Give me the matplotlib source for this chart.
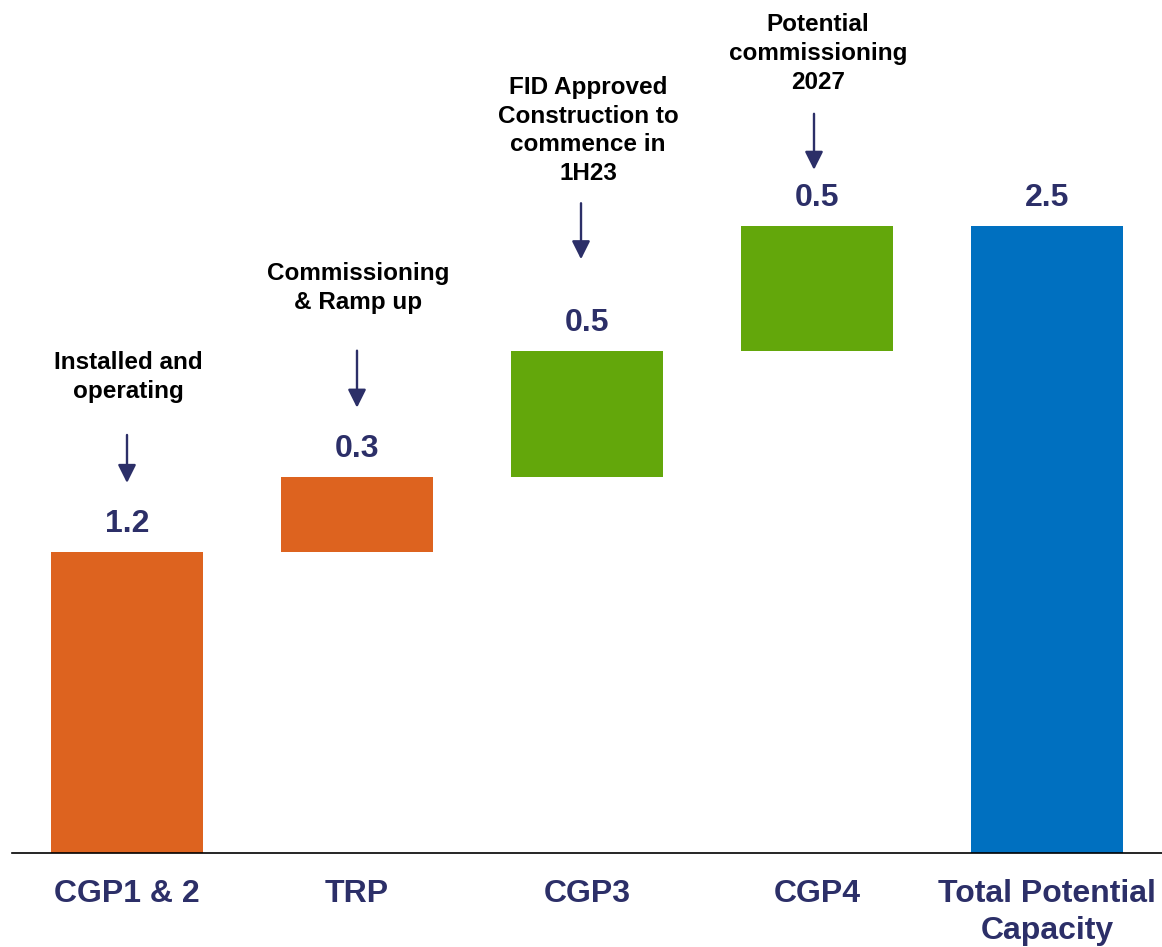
import matplotlib
matplotlib.use("Agg")
import matplotlib.pyplot as plt
from matplotlib.transforms import offset_copy
import numpy as np

# Capacity build-up (waterfall)
categories = ["CGP1 & 2", "TRP", "CGP3", "CGP4", "Total Potential\nCapacity"]
increments = [1.2, 0.3, 0.5, 0.5]
notes = [
    "Installed and\noperating",
    "Commissioning\n& Ramp up",
    "FID Approved\nConstruction to\ncommence in\n1H23",
    "Potential\ncommissioning\n2027",
]

# Colours
ORANGE = "#DD631F"
GREEN = "#63A70B"
BLUE = "#0070C0"
NAVY = "#2C2F68"
step_colors = [ORANGE, ORANGE, GREEN, GREEN]

# Layout offsets above each bar top (pixels): note baseline, arrow tail, arrow tip, arrow x shift
note_base = [154, 168, 171, 137]
arrow_tail = [117, 126, 148, 112]
arrow_tip = [69, 69, 92, 56]
arrow_dx = [0, 0, -6, -3]

plt.rcParams["font.family"] = ["Liberation Sans", "DejaVu Sans"]
plt.rcParams["font.weight"] = "bold"

W, H, DPI = 1162, 947, 100
fig = plt.figure(figsize=(W / DPI, H / DPI), dpi=DPI)
ax = fig.add_axes([12 / W, (H - 853) / H, 1150 / W, 853 / H])

PX = 72 / DPI  # pixels -> points

bottoms = np.concatenate([[0], np.cumsum(increments)[:-1]])
total = float(np.sum(increments))
x = np.arange(len(categories))

heights = list(increments) + [total]
bases = list(bottoms) + [0.0]
colors = step_colors + [BLUE]

ax.set_xlim(-0.5, 4.5)
ax.set_ylim(0, 3.4)

ax.bar(x, heights, bottom=bases, width=0.665, color=colors, zorder=2)

tops = [b + h for b, h in zip(bases, heights)]
for xi, top, val in zip(x, tops, heights):
    ax.annotate(f"{val:.1f}", xy=(xi, top), xytext=(0, 20 * PX),
                textcoords="offset points", ha="center", va="baseline",
                fontsize=23, fontweight="bold", color=NAVY)

for i, note in enumerate(notes):
    top = tops[i]
    ax.annotate(note, xy=(x[i], top), xytext=(1 * PX, note_base[i] * PX),
                textcoords="offset points", ha="center", va="baseline",
                fontsize=17.5, fontweight="bold", color="black",
                linespacing=1.32)
    # down arrow pointing at the bar
    tail_tr = offset_copy(ax.transData, fig=fig, x=arrow_dx[i] * PX,
                          y=arrow_tail[i] * PX, units="points")
    tip_tr = offset_copy(ax.transData, fig=fig, x=arrow_dx[i] * PX,
                         y=arrow_tip[i] * PX, units="points")
    ax.annotate("", xy=(x[i], top), xycoords=tip_tr,
                xytext=(x[i], top), textcoords=tail_tr,
                arrowprops=dict(arrowstyle="-|>,head_length=11,head_width=5.5",
                                mutation_scale=1, color=NAVY, lw=1.7,
                                shrinkA=0, shrinkB=0),
                annotation_clip=False)

ax.set_xticks(x)
ax.set_xticklabels(categories, fontsize=23, fontweight="bold", color=NAVY,
                   linespacing=1.33)
ax.tick_params(axis="x", length=0, pad=18.5)
ax.set_yticks([])
for side in ["left", "right", "top"]:
    ax.spines[side].set_visible(False)
ax.spines["bottom"].set_linewidth(1.2)
ax.spines["bottom"].set_color("black")
ax.spines["bottom"].set_zorder(3)
ax.patch.set_visible(False)

fig.savefig("out.png", dpi=DPI)
